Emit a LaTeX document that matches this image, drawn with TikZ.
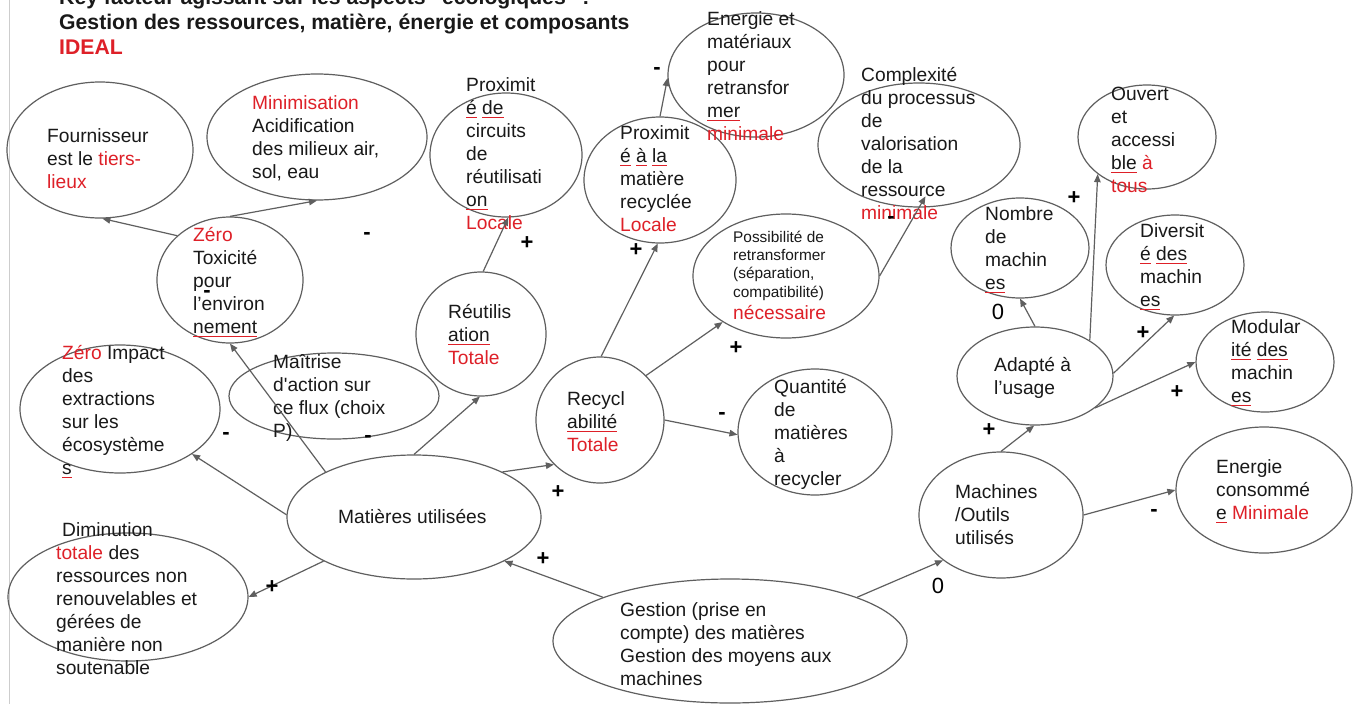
\documentclass[tikz,border=0pt]{standalone}
\usepackage{fontspec}
\setmainfont{Liberation Sans}
\usetikzlibrary{shapes.geometric,arrows.meta}
\definecolor{linec}{RGB}{95,95,95}
\definecolor{txtc}{RGB}{25,25,25}
\definecolor{redc}{RGB}{222,32,40}
\definecolor{borderc}{RGB}{205,205,205}
\newsavebox\sqbox
\newcommand\sq[1]{\sbox\sqbox{#1}\rlap{\textcolor{redc}{\rule[-3.6pt]{\wd\sqbox}{1.1pt}}}\usebox\sqbox}
\newcommand\rc[1]{\textcolor{redc}{#1}}
\newcommand\bodyfont{\fontsize{19.2}{23}\selectfont}
\newcommand\smallbodyfont{\fontsize{15.4}{18.3}\selectfont}
\newcommand\titlefont{\fontsize{21.2}{24.5}\selectfont\bfseries}
\newcommand\labfont{\fontsize{22}{26}\selectfont\bfseries}
\newcommand\zerofont{\fontsize{22}{26}\selectfont}
\begin{document}
\begin{tikzpicture}[x=1pt,y=-1pt,
  ell/.style={draw=linec, line width=1.2pt, ellipse, inner sep=0pt},
  txt/.style={anchor=north west, align=left, inner sep=0pt, text=txtc, font=\bodyfont, yshift=16.1pt},
  basetxt/.style={anchor=base west, inner sep=0pt, text=txtc, font=\bodyfont},
  smalltxt/.style={anchor=north west, align=left, inner sep=0pt, text=txtc, font=\smallbodyfont, yshift=12.81pt},
  titletxt/.style={anchor=base west, inner sep=0pt, text=txtc, font=\titlefont},
  lab/.style={anchor=base, inner sep=0pt, text=black, font=\labfont},
  zlab/.style={anchor=base, inner sep=0pt, text=black, font=\zerofont},
  arr/.style={draw=linec, line width=1.2pt, -{Triangle[length=8pt,width=6.5pt]}}
]
\useasboundingbox (0,0) rectangle (1359,704);
\clip (0,0) rectangle (1359,704);
\fill[white] (0,0) rectangle (1359,704);
\coordinate (bt) at (9,0);
\coordinate (bb) at (9,704);
\draw[draw=borderc, line width=1pt] (bt) -- (bb);

% title
\node[titletxt] (title1) at (59,5) {Key facteur agissant sur les aspects "écologiques" :};
\node[titletxt] (title2) at (59,29.3) {Gestion des ressources, matière, énergie et composants};
\node[titletxt, text=redc] (title3) at (59,54) {IDEAL};

% ellipses
\node[ell, minimum width=186pt, minimum height=136pt] (four) at (100,150) {};
\node[ell, minimum width=220pt, minimum height=126pt] (mini) at (317,137) {};
\node[ell, minimum width=146pt, minimum height=126pt] (tox) at (230,280) {};
\node[ell, minimum width=152pt, minimum height=124pt] (prox1) at (506,155) {};
\node[ell, minimum width=176pt, minimum height=124pt] (ener) at (756,75) {};
\node[ell, minimum width=152pt, minimum height=126pt] (prox2) at (660,180) {};
\node[ell, minimum width=202pt, minimum height=124pt] (compl) at (919,145) {};
\node[ell, minimum width=186pt, minimum height=124pt] (poss) at (786,276) {};
\node[ell, minimum width=138pt, minimum height=104pt] (ouv) at (1147,137) {};
\node[ell, minimum width=138pt, minimum height=100pt] (nomb) at (1020,248) {};
\node[ell, minimum width=138pt, minimum height=100pt] (div) at (1175,265) {};
\node[ell, minimum width=138pt, minimum height=100pt] (mod) at (1265,362) {};
\node[ell, minimum width=156pt, minimum height=98pt] (adap) at (1035,376) {};
\node[ell, minimum width=176pt, minimum height=126pt] (econs) at (1264,490) {};
\node[ell, minimum width=200pt, minimum height=128pt] (imp) at (120,409) {};
\node[ell, minimum width=210pt, minimum height=86pt] (mait) at (334,396) {};
\node[ell, minimum width=254pt, minimum height=124pt] (mat) at (414,517) {};
\node[ell, minimum width=240pt, minimum height=128pt] (dim) at (128,597) {};
\node[ell, minimum width=130pt, minimum height=124pt] (reut) at (481,334) {};
\node[ell, minimum width=128pt, minimum height=126pt] (recy) at (600,420) {};
\node[ell, minimum width=154pt, minimum height=126pt] (quant) at (815,432) {};
\node[ell, minimum width=164pt, minimum height=126pt] (mach) at (1001,515) {};
\node[ell, minimum width=354pt, minimum height=124pt] (gest) at (730,641) {};

% texts
\node[txt] (tfour) at (47,142) {\strut Fournisseur\\est le \rc{tiers-}\\\rc{lieux}};
\node[txt] (tmini) at (252,109) {\strut\rc{Minimisation}\\Acidification\\des milieux air,\\sol, eau};
\node[txt] (ttox) at (193,241) {\strut\rc{Zéro}\\Toxicité\\pour\\l’environ\\\sq{nement}};
\node[txt] (tprox1) at (466,91) {\strut Proximit\\\sq{é} \sq{de}\\circuits\\de\\réutilisati\\\sq{on}\\\rc{Locale}};
\node[txt] (tener) at (707,25) {\strut Energie et\\matériaux\\pour\\retransfor\\\sq{mer}\\\rc{minimale}};
\node[txt] (tprox2) at (620,139) {\strut Proximit\\\sq{é} \sq{à} \sq{la}\\matière\\recyclée\\\rc{Locale}};
\node[txt] (tcompl) at (861,81) {\strut Complexité\\du processus\\de\\valorisation\\de la\\ressource\\\rc{minimale}};
\node[smalltxt] (tposs) at (733,242) {\strut Possibilité de\\retransformer\\(séparation,\\compatibilité)};
\node[basetxt] (tposs2) at (733,319) {\rc{nécessaire}};
\node[txt] (touv) at (1111,100) {\strut Ouvert\\et\\accessi\\\sq{ble} \rc{à}\\\rc{tous}};
\node[txt] (tnomb) at (985,220) {\strut Nombre\\de\\machin\\\sq{es}};
\node[txt] (tdiv) at (1140,237) {\strut Diversit\\\sq{é} \sq{des}\\machin\\\sq{es}};
\node[txt] (tmod) at (1231,333) {\strut Modular\\\sq{ité} \sq{des}\\machin\\\sq{es}};
\node[txt] (tadap) at (994,371) {\strut Adapté à\\l’usage};
\node[txt] (timp) at (62,359) {\strut\rc{Zéro} Impact\\des\\extractions\\sur les\\écosystème\\\sq{s}};
\node[txt] (tmait) at (273,368) {\strut Maîtrise\\d\textquotesingle action sur\\ce flux (choix\\P)};
\node[basetxt] (tmat) at (338,523) {Matières utilisées};
\node[txt] (tdim) at (56,536) {\strut\hspace{6pt}Diminution\\\rc{totale} des\\ressources non\\renouvelables et\\gérées de\\manière non\\soutenable};
\node[txt] (treut) at (448,318) {\strut Réutilis\\\sq{ation}\\\rc{Totale}};
\node[txt] (trecy) at (567,405) {\strut Recycl\\\sq{abilité}\\\rc{Totale}};
\node[txt] (tquant) at (774,393) {\strut Quantité\\de\\matières\\à\\recycler};
\node[txt] (tmach) at (955,498) {\strut Machines\\/Outils\\utilisés};
\node[txt] (tecons) at (1216,473) {\strut Energie\\consommé\\\sq{e} \rc{Minimale}};
\node[txt] (tgest) at (620,616) {\strut Gestion (prise en\\compte) des matières\\Gestion des moyens aux\\machines};

% connectors
\draw[arr] (tox.140) -- (four.-88);
\draw[arr] (tox.90) -- (mini.-90);
\draw[arr] (mat.153) -- (tox.-90);
\draw[arr] (mat.179) -- (imp.-32);
\draw[arr] (mat.206) -- (dim.0);
\draw[arr] (mat.90) -- (reut.-91);
\draw[arr] (reut.88) -- (prox1.-88);
\draw[arr] (mat.27) -- (recy.224);
\draw[arr] (recy.89) -- (prox2.-92);
\draw[arr] (prox2.90) -- (ener.182);
\draw[arr] (recy.44) -- (poss.216);
\draw[arr, shorten >=-13pt] (poss.0) -- (compl.-90);
\draw[arr] (recy.0) -- (quant.182);
\draw[arr] (gest.161) -- (mat.-26);
\draw[arr] (gest.19) -- (mach.218);
\draw[arr] (mach.90) -- (adap.-91);
\draw[arr] (mach.0) -- (econs.180);
\draw[arr] (adap.90) -- (nomb.-90);
\draw[arr] (adap.33) -- (ouv.217);
\draw[arr] (adap.2) -- (div.-91);
\draw[arr] (adap.-28) -- (mod.180);

% signs
\node[lab] (l1) at (367,239) {-};
\node[lab] (l2) at (207,297) {-};
\node[lab] (l3) at (527,249) {+};
\node[lab] (l4) at (657,74) {-};
\node[lab] (l5) at (636,256) {+};
\node[lab] (l6) at (891,223) {-};
\node[lab] (l7) at (1074,204) {+};
\node[zlab] (l8) at (998,319) {0};
\node[lab] (l9) at (1143,339) {+};
\node[lab] (l10) at (1177,398) {+};
\node[lab] (l11) at (989,436) {+};
\node[lab] (l12) at (226,439) {-};
\node[lab] (l13) at (368,442) {-};
\node[lab] (l14) at (558,498) {+};
\node[lab] (l15) at (543,565) {+};
\node[lab] (l16) at (272,593) {+};
\node[lab] (l17) at (722,419) {-};
\node[lab] (l18) at (736,354) {+};
\node[zlab] (l19) at (938,593) {0};
\node[lab] (l20) at (1154,516) {-};
\end{tikzpicture}
\end{document}
